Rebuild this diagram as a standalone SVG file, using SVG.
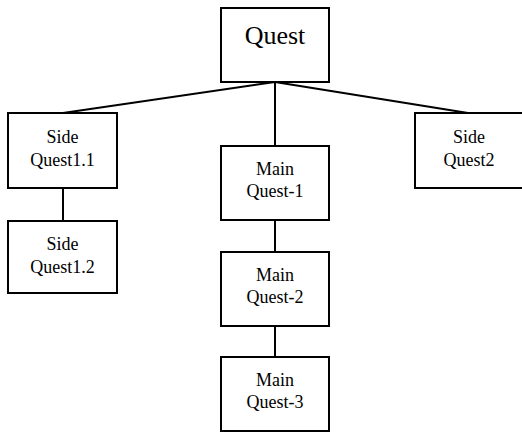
<svg xmlns="http://www.w3.org/2000/svg" width="522" height="434" viewBox="0 0 522 434">
<style>
rect{fill:#fff;stroke:#000;stroke-width:2}
line{stroke:#000;stroke-width:2}
text{font-family:'Liberation Serif','Times New Roman',Times,serif;font-size:18px;fill:#000;text-anchor:middle}
.big{font-size:26px}
</style>
<rect x="0" y="0" width="522" height="434" style="stroke:none"/>
<g id="connectors">
<line x1="275" y1="82" x2="63" y2="113"/>
<line x1="275" y1="82" x2="275" y2="146"/>
<line x1="275" y1="82" x2="468" y2="113"/>
<line x1="63" y1="188" x2="63" y2="221"/>
<line x1="275" y1="220" x2="275" y2="252"/>
<line x1="275" y1="326" x2="275" y2="357"/>
</g>
<g id="quest"><rect x="221" y="8" width="108" height="74"/><text class="big" x="275" y="44" font-family="Liberation Serif">Quest</text></g>
<g id="side11"><rect x="8" y="113" width="109" height="75"/><text x="62.5" y="143">Side</text><text x="62.5" y="166">Quest1.1</text></g>
<g id="side12"><rect x="8" y="221" width="109" height="72"/><text x="62.5" y="250">Side</text><text x="62.5" y="273">Quest1.2</text></g>
<g id="side2"><rect x="415" y="113" width="108" height="75"/><text x="469" y="143">Side</text><text x="469" y="166">Quest2</text></g>
<g id="main1"><rect x="221" y="146" width="108" height="74"/><text x="275" y="175">Main</text><text x="275" y="197">Quest-1</text></g>
<g id="main2"><rect x="221" y="252" width="108" height="74"/><text x="275" y="281">Main</text><text x="275" y="303">Quest-2</text></g>
<g id="main3"><rect x="221" y="357" width="108" height="74"/><text x="275" y="386">Main</text><text x="275" y="408">Quest-3</text></g>
</svg>
